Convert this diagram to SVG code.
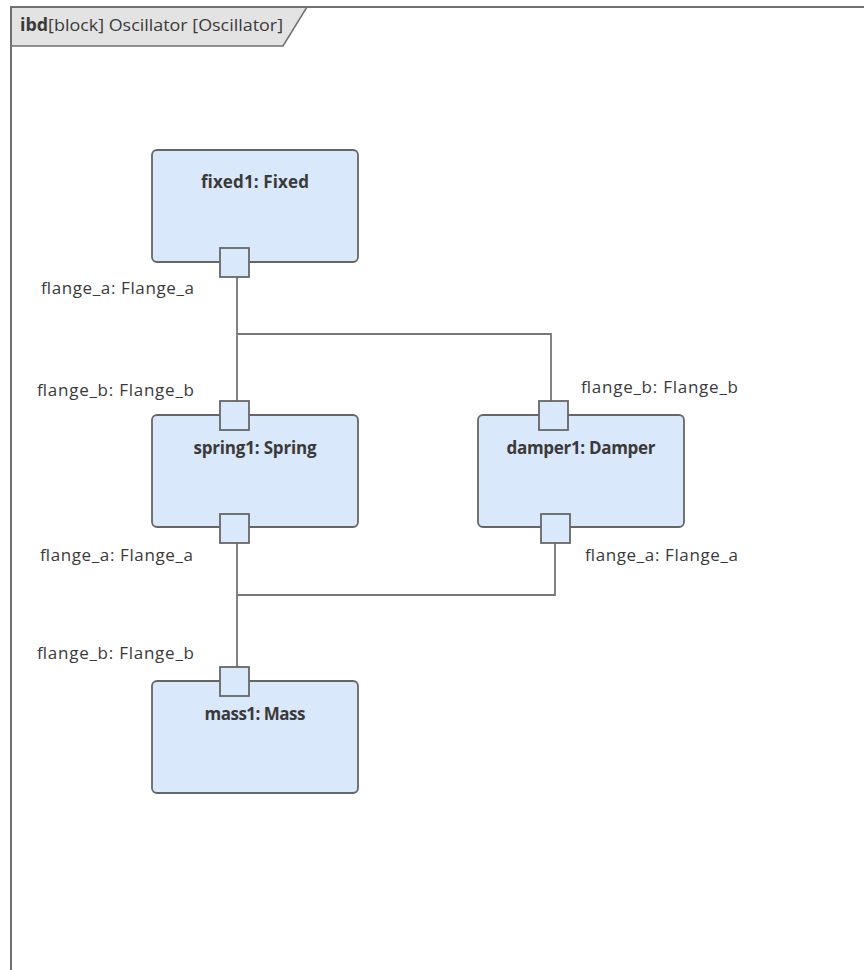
<svg xmlns="http://www.w3.org/2000/svg" width="864" height="970" viewBox="0 0 864 970">
<style>
.frame{fill:none;stroke:#707070;stroke-width:2}
.tab{fill:#e3e3e3;stroke:#707070;stroke-width:1.5}
.block{fill:#dae8fb;stroke:#666;stroke-width:1.8}
.port{fill:#dae8fb;stroke:#666;stroke-width:1.8}
.conn{fill:none;stroke:#777;stroke-width:1.8}
.lbl{font-family:"Open Sans","Liberation Sans",sans-serif;font-size:17px;fill:#3a3a3a}
.ttl{font-family:"Open Sans","Liberation Sans",sans-serif;font-size:17px;font-weight:bold;fill:#3a3a3a;text-anchor:middle}
</style>
<rect width="864" height="970" fill="#fff"/>
<g id="frame">
<path class="tab" d="M11,7 H307 L283,46 H11 Z"/>
<path class="frame" d="M11,970 V7 H864"/>
<text x="20" y="31" class="lbl" textLength="263" lengthAdjust="spacingAndGlyphs"><tspan font-weight="bold">ibd</tspan>[block] Oscillator [Oscillator]</text>
</g>
<g id="connectors">
<path class="conn" d="M237,277 V401"/>
<path class="conn" d="M237,334 H551 V401"/>
<path class="conn" d="M237,543 V667"/>
<path class="conn" d="M237,595 H555 V543"/>
</g>
<g id="fixed1">
<rect class="block" x="152" y="150" width="206" height="112" rx="5"/>
<text class="ttl" x="255" y="188" textLength="108">fixed1: Fixed</text>
<rect class="port" x="220" y="248" width="29" height="29"/>
<text class="lbl" x="41" y="294" textLength="153">flange_a: Flange_a</text>
</g>
<g id="spring1">
<rect class="block" x="152" y="415" width="206" height="112" rx="5"/>
<text class="ttl" x="255" y="454" textLength="123">spring1: Spring</text>
<rect class="port" x="220" y="401" width="29" height="29"/>
<rect class="port" x="220" y="514" width="29" height="29"/>
<text class="lbl" x="37" y="396" textLength="157">flange_b: Flange_b</text>
<text class="lbl" x="40" y="561" textLength="153">flange_a: Flange_a</text>
</g>
<g id="damper1">
<rect class="block" x="478" y="415" width="206" height="112" rx="5"/>
<text class="ttl" x="581" y="454" textLength="149">damper1: Damper</text>
<rect class="port" x="539" y="401" width="29" height="29"/>
<rect class="port" x="541" y="514" width="29" height="29"/>
<text class="lbl" x="581" y="393" textLength="157">flange_b: Flange_b</text>
<text class="lbl" x="585" y="561" textLength="153">flange_a: Flange_a</text>
</g>
<g id="mass1">
<rect class="block" x="152" y="681" width="206" height="112" rx="5"/>
<text class="ttl" x="255" y="720" textLength="101">mass1: Mass</text>
<rect class="port" x="220" y="667" width="29" height="29"/>
<text class="lbl" x="37" y="659" textLength="157">flange_b: Flange_b</text>
</g>
</svg>
